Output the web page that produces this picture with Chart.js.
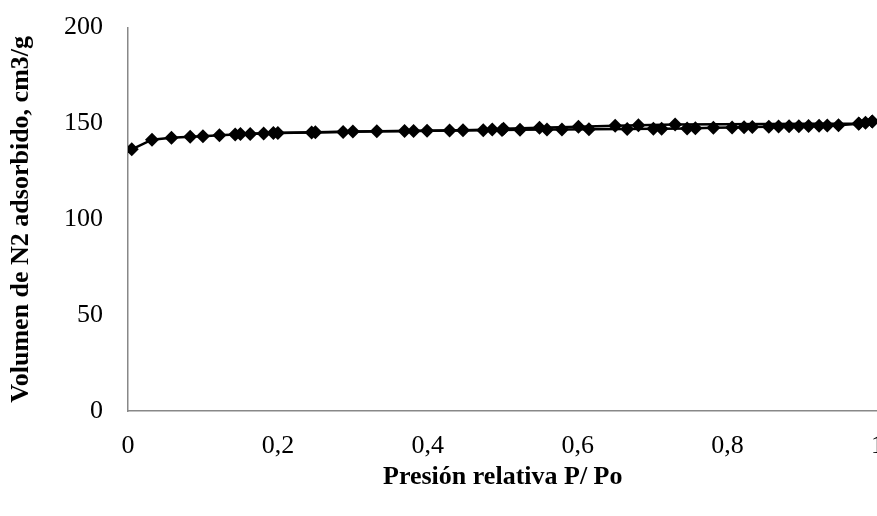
<!DOCTYPE html>
<html>
<head>
<meta charset="utf-8">
<script src="https://cdn.jsdelivr.net/npm/chart.js@4"></script>
<style>
  body { margin: 0; overflow: hidden; background: #fff; }
  #caja { width: 904px; height: 529px; position: relative; top: -13px; }
</style>
</head>
<body>
<div id="caja"><canvas id="grafico"></canvas></div>
<script>
// rama de adsorción
const presionAds = [0.005, 0.032, 0.058, 0.083, 0.100, 0.122, 0.143, 0.163, 0.181, 0.200,
  0.245, 0.287, 0.332, 0.369, 0.399, 0.429, 0.474, 0.499, 0.523, 0.559, 0.579, 0.615,
  0.666, 0.701, 0.712, 0.746, 0.757, 0.781, 0.806, 0.822, 0.833, 0.855, 0.868, 0.882,
  0.895, 0.908, 0.922, 0.933, 0.948, 0.975, 0.984, 0.993];
const volumenAds = [136.5, 141.5, 142.5, 143.0, 143.3, 143.8, 144.2, 144.5, 144.7, 145.0,
  145.3, 145.6, 145.9, 146.0, 146.2, 146.3, 146.5, 146.6, 146.7, 146.8, 146.9, 147.0,
  147.1, 147.2, 147.3, 147.4, 147.5, 147.7, 147.9, 148.0, 148.1, 148.3, 148.4, 148.5,
  148.6, 148.7, 148.8, 148.9, 149.1, 149.8, 150.3, 151.0];

// rama de desorción
const presionDes = [0.993, 0.975, 0.730, 0.681, 0.650, 0.601, 0.549, 0.501, 0.486, 0.447,
  0.381, 0.300, 0.250, 0.194, 0.150];
const volumenDes = [151.0, 150.0, 149.5, 149.0, 148.8, 148.3, 147.8, 147.2, 146.8, 146.4,
  146.1, 145.8, 145.4, 145.0, 144.5];

const ejeY = { min: 0, max: 200, paso: 50 };
const ejeX = { min: 0, max: 1, paso: 0.2 };

function armaPuntos(xs, ys) {
  return xs.map((x, i) => ({ x: x, y: ys[i] }));
}

const fuente = 'Liberation Serif, Times New Roman, serif';

function serie(xs, ys) {
  return {
    data: armaPuntos(xs, ys),
    showLine: true,
    borderColor: '#000',
    borderWidth: 2.5,
    backgroundColor: '#000',
    pointStyle: 'rectRot',
    pointRadius: 7,
    pointBorderWidth: 0,
    pointBackgroundColor: '#000'
  };
}

const grafico = new Chart(document.getElementById('grafico'), {
  type: 'scatter',
  data: {
    datasets: [serie(presionAds, volumenAds), serie(presionDes, volumenDes)]
  },
  options: {
    responsive: true,
    maintainAspectRatio: false,
    animation: false,
    layout: { padding: { top: 0, left: 2, right: 0, bottom: 0 } },
    plugins: { legend: { display: false }, tooltip: { enabled: false } },
    scales: {
      x: {
        type: 'linear',
        min: ejeX.min,
        max: ejeX.max,
        afterFit: (escala) => { escala.height = 105; },
        grid: { display: false, drawTicks: false },
        border: { color: '#888', width: 1.5 },
        ticks: {
          stepSize: ejeX.paso,
          padding: 20,
          color: '#000',
          font: { family: fuente, size: 26 },
          callback: (v) => String(Number(v.toFixed(1))).replace('.', ',')
        },
        title: {
          display: true,
          text: 'Presión relativa P/ Po',
          color: '#000',
          font: { family: fuente, size: 26, weight: 'bold' },
          padding: { top: 0, bottom: 23 }
        }
      },
      y: {
        min: ejeY.min,
        max: ejeY.max,
        afterFit: (escala) => { escala.width = 126; },
        grid: { display: false, drawTicks: false },
        border: { color: '#888', width: 1.5 },
        ticks: {
          stepSize: ejeY.paso,
          padding: 25,
          color: '#000',
          font: { family: fuente, size: 26 }
        },
        title: {
          display: true,
          text: 'Volumen de N2 adsorbido, cm3/g',
          color: '#000',
          font: { family: fuente, size: 26, weight: 'bold' },
          padding: { top: 4, bottom: 4 }
        }
      }
    }
  }
});
</script>
</body>
</html>
